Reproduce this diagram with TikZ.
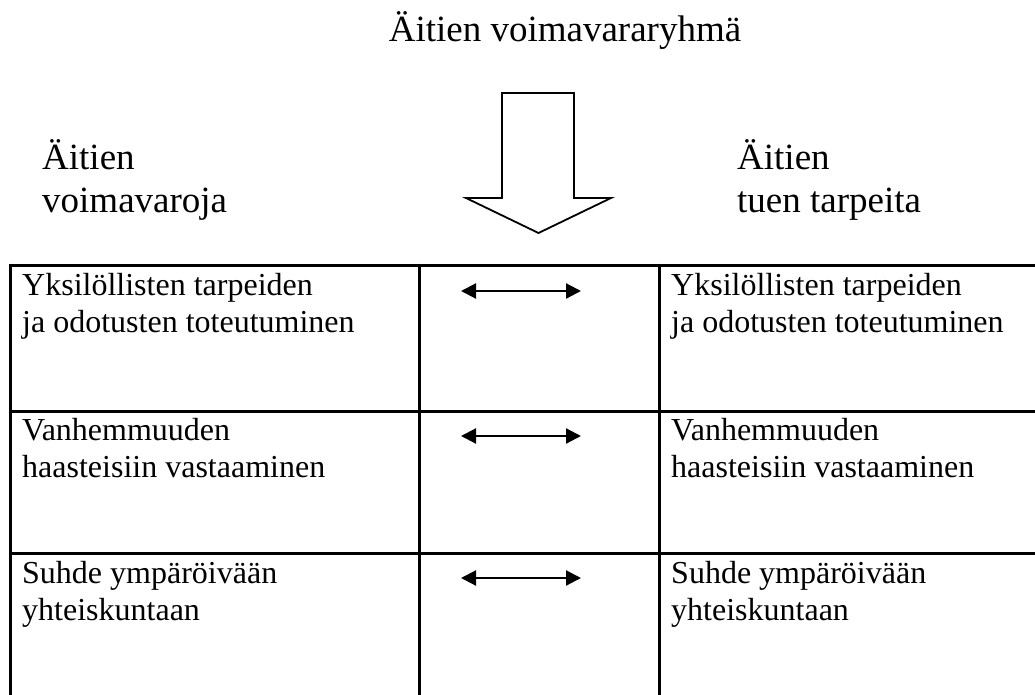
\documentclass[tikz,border=0pt]{standalone}
\usepackage{fontspec}
\setmainfont{Liberation Serif}
\usetikzlibrary{arrows.meta}
\tikzset{
  grid/.style={line width=3pt},
  big/.style={font=\fontsize{37}{43}\selectfont, inner sep=0pt, anchor=base west, align=left},
  cell/.style={font=\fontsize{32}{37}\selectfont, inner sep=0pt, anchor=base west, align=left},
  bigarrow/.style={draw, line width=1.8pt, fill=white, line join=miter},
  link/.style={line width=2.2pt, {Triangle[length=15pt,width=15pt]}-{Triangle[length=15pt,width=15pt]}}
}
\begin{document}
\begin{tikzpicture}[x=1pt,y=-1pt]
\useasboundingbox (0,0) rectangle (1035,695);
% title
\node[big, anchor=base] (title) at (565,41.5) {Äitien voimavararyhmä};
% big arrow
\draw[bigarrow] (502,93) -- (574,93) -- (574,198) -- (611,198) -- (538.5,233) -- (466,198) -- (502,198) -- cycle;
% headers (base = last line)
\node[big] (hl) at (42,212) {Äitien\\voimavaroja};
\node[big] (hr) at (737,212) {Äitien\\tuen tarpeita};
% table lines
\draw[grid] (10,265) -- (1035,265);
\draw[grid] (10,411) -- (1035,411);
\draw[grid] (10,553) -- (1035,553);
\draw[grid] (10,263.5) -- (10,695);
\draw[grid] (419,263.5) -- (419,695);
\draw[grid] (659,263.5) -- (659,695);
% cells (base = last line)
\node[cell] (l1) at (22,332) {Yksilöllisten tarpeiden\\ja odotusten toteutuminen};
\node[cell] (r1) at (671,332) {Yksilöllisten tarpeiden\\ja odotusten toteutuminen};
\node[cell] (l2) at (22,477) {Vanhemmuuden\\haasteisiin vastaaminen};
\node[cell] (r2) at (671,477) {Vanhemmuuden\\haasteisiin vastaaminen};
\node[cell] (l3) at (22,620) {Suhde ympäröivään\\yhteiskuntaan};
\node[cell] (r3) at (671,620) {Suhde ympäröivään\\yhteiskuntaan};
% link arrows
\coordinate (a1l) at (461,291); \coordinate (a1r) at (581,291);
\coordinate (a2l) at (461,436); \coordinate (a2r) at (581,436);
\coordinate (a3l) at (461,578); \coordinate (a3r) at (581,578);
\draw[link] (a1l) -- (a1r);
\draw[link] (a2l) -- (a2r);
\draw[link] (a3l) -- (a3r);
\end{tikzpicture}
\end{document}
